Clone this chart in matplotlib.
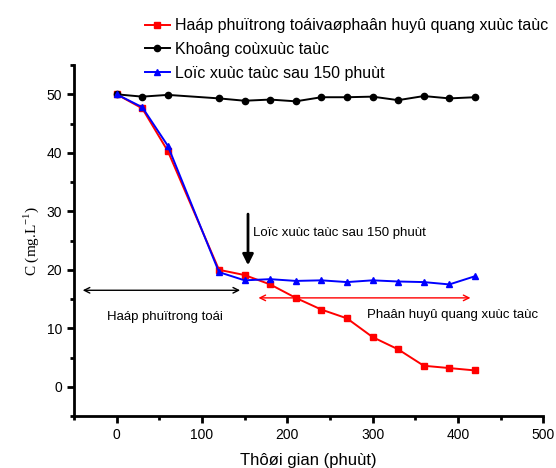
import matplotlib.pyplot as plt
from matplotlib.ticker import MultipleLocator

plt.rcParams["font.family"] = ["Liberation Sans", "DejaVu Sans"]

time = [0, 30, 60, 120, 150, 180, 210, 240, 270, 300, 330, 360, 390, 420]
c_hap_phu_phan_huy = [50, 47.6, 40.3, 20.0, 19.1, 17.5, 15.2, 13.2, 11.7, 8.5, 6.4, 3.6, 3.2, 2.8]
c_khong_xuc_tac = [50, 49.6, 49.9, 49.3, 48.9, 49.1, 48.8, 49.5, 49.5, 49.6, 49.0, 49.7, 49.3, 49.5]
c_loc_xuc_tac = [50, 47.8, 41.2, 19.6, 18.2, 18.4, 18.1, 18.2, 17.9, 18.2, 18.0, 17.9, 17.5, 18.9]

labels = [
    "Haáp phuïtrong toáivaøphaân huyû quang xuùc taùc",
    "Khoâng coùxuùc taùc",
    "Loïc xuùc taùc sau 150 phuùt",
]

fig = plt.figure(figsize=(5.56, 4.68), dpi=100)
ax = fig.add_axes([0.133, 0.111, 0.844, 0.75])

l1, = ax.plot(time, c_hap_phu_phan_huy, color="red", marker="s", markersize=4.5, linewidth=1.4)
l2, = ax.plot(time, c_khong_xuc_tac, color="black", marker="o", markersize=4.5, linewidth=1.4)
l3, = ax.plot(time, c_loc_xuc_tac, color="blue", marker="^", markersize=5, linewidth=1.4)

# mui ten va chu thich
ax.annotate("", xy=(-43, 16.5), xytext=(148, 16.5),
            arrowprops=dict(arrowstyle="<->", color="black", lw=1))
ax.annotate("", xy=(163, 15.2), xytext=(418, 15.2),
            arrowprops=dict(arrowstyle="<->", color="red", lw=1))
ax.annotate("", xy=(154, 20.3), xytext=(154, 30),
            arrowprops=dict(arrowstyle="-|>", color="black", lw=2, mutation_scale=16))
ax.text(160, 26.3, "Loïc xuùc taùc sau 150 phuùt", fontsize=9.5, va="center")
ax.text(-11, 12, "Haáp phuïtrong toái", fontsize=9.5, va="center")
ax.text(294, 12.3, "Phaân huyû quang xuùc taùc", fontsize=9.5, va="center")

ax.set_xlim(-50, 500)
ax.set_ylim(-5, 55)
ax.xaxis.set_major_locator(MultipleLocator(100))
ax.xaxis.set_minor_locator(MultipleLocator(50))
ax.yaxis.set_major_locator(MultipleLocator(10))
ax.yaxis.set_minor_locator(MultipleLocator(5))
ax.spines["top"].set_visible(False)
ax.spines["right"].set_visible(False)
ax.spines["left"].set_linewidth(2)
ax.spines["bottom"].set_linewidth(2)
ax.tick_params(which="major", direction="out", length=5, width=2, labelsize=10)
ax.tick_params(which="minor", direction="out", length=3, width=2)

ax.set_xlabel("Thôøi gian (phuùt)", fontsize=12, labelpad=8)
ax.set_ylabel("C (mg.L$^{\\mathregular{-1}}$)", fontsize=11, family="Liberation Serif")

fig.legend([l1, l2, l3], labels, loc="upper left", bbox_to_anchor=(0.24, 0.985),
           frameon=False, fontsize=11.5, handlelength=1.6, handletextpad=0.3,
           labelspacing=0.55, borderpad=0.2)

plt.savefig("out.png", dpi=100)
